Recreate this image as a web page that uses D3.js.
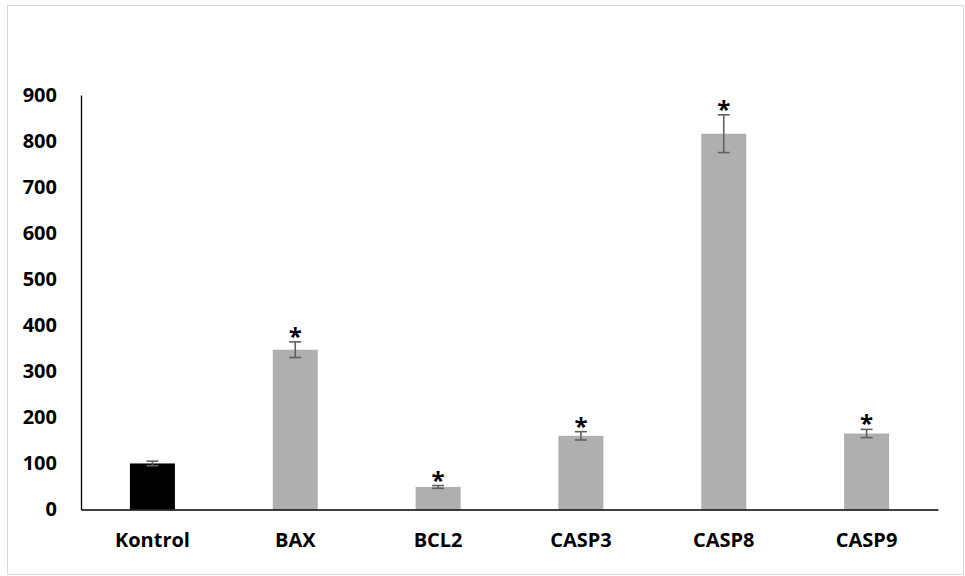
<!DOCTYPE html>
<html>
<head>
<meta charset="utf-8">
<script src="https://cdn.jsdelivr.net/npm/d3@7"></script>
<style>
  html, body { margin: 0; padding: 0; background: #fff; }
  svg { display: block; }
</style>
</head>
<body>
<svg id="chart" width="965" height="576"></svg>
<script>
// Relative expression (% of control) per gene
const categories = ["Kontrol", "BAX", "BCL2", "CASP3", "CASP8", "CASP9"];
const values = [100, 347, 49, 160, 816, 165];
const errors = [5, 17, 3, 9, 41, 9];
const significant = [false, true, true, true, true, true];
const yTicks = [0, 100, 200, 300, 400, 500, 600, 700, 800, 900];

const svg = d3.select("#chart");
const W = 965, H = 576;
const margin = { left: 81, right: 27, top: 95, bottom: 66.5 };

// outer frame
svg.append("rect")
  .attr("x", 7.5).attr("y", 5.5)
  .attr("width", 956).attr("height", 569)
  .attr("fill", "#fff")
  .attr("stroke", "#d9d9d9").attr("stroke-width", 1);

const x = d3.scaleBand()
  .domain(categories)
  .range([margin.left, W - margin.right])
  .paddingInner(0.685)
  .paddingOuter(0.3425);

const y = d3.scaleLinear()
  .domain([0, 900])
  .range([H - margin.bottom, margin.top]);

const font = "'Open Sans', Lato, 'Liberation Sans', sans-serif";

// bars
svg.append("g").selectAll("rect")
  .data(categories)
  .join("rect")
  .attr("x", d => x(d))
  .attr("width", x.bandwidth())
  .attr("y", (d, i) => y(values[i]))
  .attr("height", (d, i) => y(0) - y(values[i]))
  .attr("fill", (d, i) => i === 0 ? "#000000" : "#afafaf");

// error bars
const eb = svg.append("g")
  .attr("stroke", "#606060")
  .attr("stroke-width", 1.6)
  .attr("fill", "none");
categories.forEach((c, i) => {
  const cx = x(c) + x.bandwidth() / 2;
  const hi = y(values[i] + errors[i]);
  const lo = y(values[i] - errors[i]);
  eb.append("line").attr("x1", cx).attr("x2", cx).attr("y1", hi).attr("y2", lo);
  eb.append("line").attr("x1", cx - 6).attr("x2", cx + 6).attr("y1", hi).attr("y2", hi);
  eb.append("line").attr("x1", cx - 6).attr("x2", cx + 6).attr("y1", lo).attr("y2", lo);
});

// significance markers above the error bars
svg.append("g").selectAll("text")
  .data(categories.filter((c, i) => significant[i]))
  .join("text")
  .attr("x", d => x(d) + x.bandwidth() / 2)
  .attr("y", d => {
    const i = categories.indexOf(d);
    return y(values[i] + errors[i]) + 3;
  })
  .attr("text-anchor", "middle")
  .attr("font-family", font)
  .attr("font-size", 24)
  .attr("font-weight", "bold")
  .attr("fill", "#000")
  .text("*");

// y axis
const yAxis = svg.append("g")
  .attr("transform", `translate(${margin.left},0)`)
  .call(d3.axisLeft(y).tickValues(yTicks).tickSize(0).tickPadding(24));
yAxis.select(".domain").attr("stroke", "#000").attr("stroke-width", 1.3);
yAxis.selectAll("text")
  .attr("font-family", font)
  .attr("font-size", 20)
  .attr("font-weight", "bold")
  .attr("fill", "#000");

// x axis
const xAxis = svg.append("g")
  .attr("transform", `translate(0,${y(0)})`)
  .call(d3.axisBottom(x).tickSize(0).tickPadding(23));
xAxis.select(".domain").attr("stroke", "#000").attr("stroke-width", 1.6);
xAxis.selectAll("text")
  .attr("font-family", font)
  .attr("font-size", 20)
  .attr("font-weight", "bold")
  .attr("fill", "#000");
</script>
</body>
</html>
